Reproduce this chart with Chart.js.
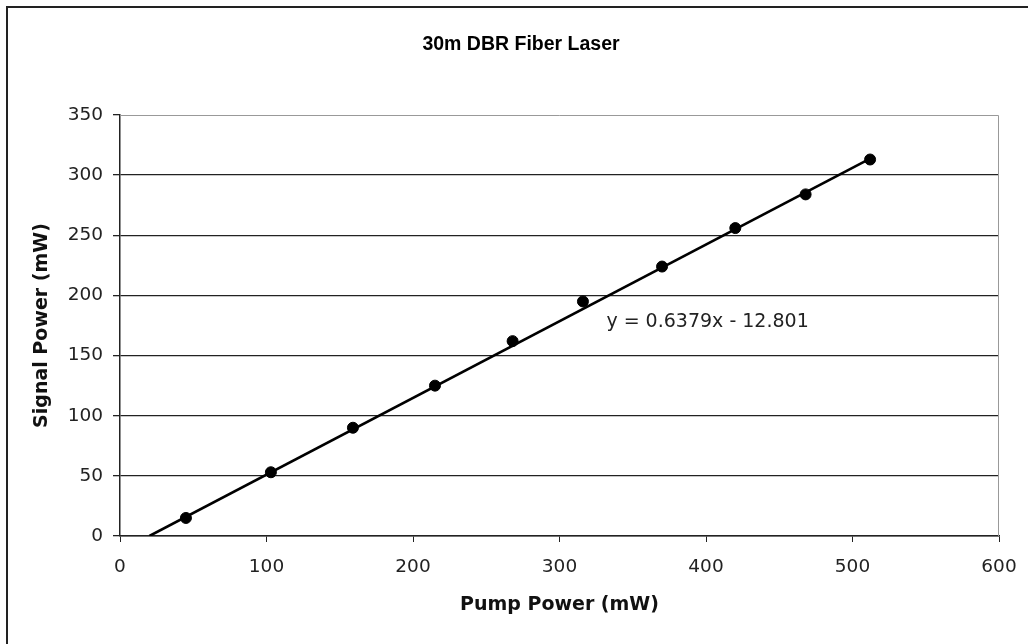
<!DOCTYPE html>
<html>
<head>
<meta charset="utf-8">
<title>30m DBR Fiber Laser</title>
<script src="https://cdn.jsdelivr.net/npm/chart.js@4.4.1/dist/chart.umd.min.js"></script>
<style>
	html, body { margin: 0; padding: 0; background: #fff; }
	#wrap { width: 1028px; height: 644px; }
</style>
</head>
<body>
<div id="wrap"><canvas id="chart" width="1028" height="644"></canvas></div>
<script>
// measured points
var pump = [45, 103, 159, 215, 268, 316, 370, 420, 468, 512];
var signal = [15, 53, 90, 125, 162, 195, 224, 256, 284, 313];

// linear fit
var slope = 0.6379;
var intercept = -12.801;
var eqAt = { x: 332, y: 178 };

var xTicks = [0, 100, 200, 300, 400, 500, 600];
var yTicks = [0, 50, 100, 150, 200, 250, 300, 350];

var points = pump.map(function(v, i) { return { x: v, y: signal[i] }; });
var x0 = -intercept / slope;
var x1 = pump[pump.length - 1];
var fit = [x0, x1].map(function(v) { return { x: v, y: slope * v + intercept }; });

var tickFont = { family: "'DejaVu Sans'", size: 18.5 };
var axisTitleFont = { family: "'DejaVu Sans'", size: 19, weight: 'bold' };

// outer frame, plot border and fit label
var decor = {
	id: 'decor',
	beforeDraw: function(c) {
		var ctx = c.ctx;
		ctx.save();
		ctx.strokeStyle = '#222';
		ctx.lineWidth = 2;
		ctx.beginPath();
		ctx.moveTo(7, 644);
		ctx.lineTo(7, 7);
		ctx.lineTo(1028, 7);
		ctx.stroke();
		ctx.restore();
	},
	afterDatasetsDraw: function(c) {
		var ctx = c.ctx;
		var a = c.chartArea;
		ctx.save();
		ctx.strokeStyle = '#999';
		ctx.lineWidth = 1;
		ctx.beginPath();
		ctx.moveTo(a.left, a.top + 0.5);
		ctx.lineTo(a.right - 0.5, a.top + 0.5);
		ctx.lineTo(a.right - 0.5, a.bottom);
		ctx.stroke();
		ctx.fillStyle = '#222';
		ctx.font = "19px 'DejaVu Sans'";
		ctx.textBaseline = 'middle';
		ctx.textAlign = 'left';
		var txt = 'y = ' + slope + 'x - ' + Math.abs(intercept);
		ctx.fillText(txt, c.scales.x.getPixelForValue(eqAt.x), c.scales.y.getPixelForValue(eqAt.y));
		ctx.restore();
	}
};

var chart = new Chart(document.getElementById('chart'), {
	type: 'scatter',
	data: {
		datasets: [{
			label: 'Signal',
			data: points,
			backgroundColor: '#000',
			borderColor: '#000',
			pointRadius: 5.5,
			pointHoverRadius: 5.5,
			order: 1
		}, {
			label: 'Linear fit',
			data: fit,
			type: 'line',
			showLine: true,
			borderColor: '#000',
			borderWidth: 2.6,
			pointRadius: 0,
			fill: false,
			order: 2
		}]
	},
	options: {
		responsive: false,
		animation: false,
		layout: {
			padding: { left: 43, right: 29, top: 0, bottom: 0 }
		},
		plugins: {
			legend: { display: false },
			tooltip: { enabled: false },
			title: {
				display: true,
				text: '30m DBR Fiber Laser',
				color: '#000',
				font: { family: "'Liberation Sans'", size: 19.5, weight: 'bold' },
				padding: { top: 33, bottom: 58.6 }
			}
		},
		scales: {
			x: {
				type: 'linear',
				min: 0,
				max: 600,
				afterBuildTicks: function(s) { s.ticks = xTicks.map(function(v) { return { value: v }; }); },
				afterFit: function(s) {
					s.height = 108;
					s.paddingLeft = 0;
					s.paddingRight = 0;
				},
				ticks: { color: '#222', font: tickFont, padding: 14, maxRotation: 0 },
				grid: { drawOnChartArea: false, drawTicks: true, tickLength: 6, tickColor: '#222' },
				border: { color: '#222', width: 1.5 },
				title: {
					display: true,
					text: 'Pump Power (mW)',
					color: '#111',
					font: axisTitleFont,
					padding: { top: 0, bottom: 27.6 }
				}
			},
			y: {
				type: 'linear',
				min: 0,
				max: 350,
				afterBuildTicks: function(s) { s.ticks = yTicks.map(function(v) { return { value: v }; }); },
				afterFit: function(s) { s.width = 77; },
				ticks: { color: '#222', font: tickFont, padding: 10 },
				grid: {
					color: function(ctx) { return ctx.tick && ctx.tick.value === 350 ? 'rgba(0,0,0,0)' : '#222'; },
					lineWidth: 1.3,
					tickLength: 7,
					tickColor: '#222'
				},
				border: { color: '#222', width: 1.5 },
				title: {
					display: true,
					text: 'Signal Power (mW)',
					color: '#111',
					font: axisTitleFont,
					padding: { top: -12.4, bottom: 0 }
				}
			}
		}
	},
	plugins: [decor]
});
</script>
</body>
</html>
